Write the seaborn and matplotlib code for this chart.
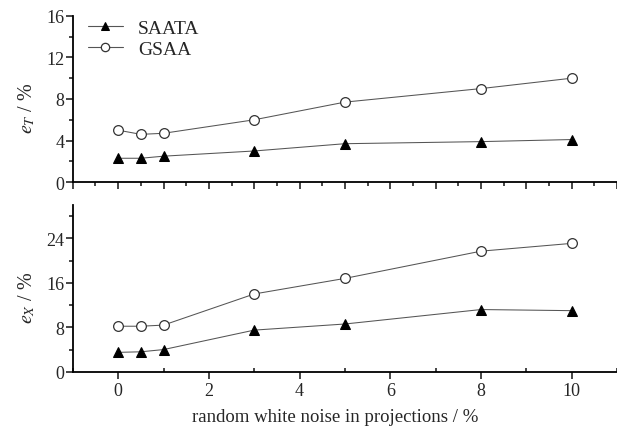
import matplotlib
matplotlib.use("Agg")
import matplotlib.pyplot as plt
import seaborn as sns
import pandas as pd
from matplotlib.ticker import MultipleLocator

noise = [0, 0.5, 1, 3, 5, 8, 10]
eT_saata = [2.3, 2.3, 2.5, 3.0, 3.7, 3.9, 4.1]
eT_gsaa = [5.0, 4.6, 4.7, 6.0, 7.7, 9.0, 10.0]
eX_saata = [3.5, 3.6, 4.0, 7.5, 8.6, 11.2, 11.0]
eX_gsaa = [8.2, 8.2, 8.4, 14.0, 16.8, 21.7, 23.1]
series = ["SAATA", "GSAA"]

sns.set_theme(style="white")
plt.rcParams["font.family"] = ["Liberation Serif", "DejaVu Serif"]
plt.rcParams["mathtext.fontset"] = "stix"

LINE = "#555555"

def frame(a, b):
    return pd.DataFrame({
        "noise": noise * 2,
        "value": a + b,
        "method": [series[0]] * len(noise) + [series[1]] * len(noise),
    })

fig = plt.figure(figsize=(6.17, 4.31), dpi=100)
ax1 = fig.add_axes([0.118, 0.575, 0.882, 0.386])
ax2 = fig.add_axes([0.118, 0.135, 0.882, 0.387])

styles = dict(markers={"SAATA": "^", "GSAA": "o"}, dashes=False)
for ax, df in [(ax1, frame(eT_saata, eT_gsaa)), (ax2, frame(eX_saata, eX_gsaa))]:
    sns.lineplot(data=df, x="noise", y="value", hue="method", style="method",
                 palette={"SAATA": LINE, "GSAA": LINE},
                 linewidth=0.75, markersize=7, ax=ax, legend=(ax is ax1), **styles)
    for ln in ax.lines:
        if ln.get_marker() == "^":
            ln.set_markerfacecolor("black"); ln.set_markeredgecolor("black")
        elif ln.get_marker() == "o":
            ln.set_markerfacecolor("white"); ln.set_markeredgecolor("#333333")
            ln.set_markeredgewidth(0.9)
    ax.set_xlim(-1, 11)
    for s in ["top", "right"]:
        ax.spines[s].set_visible(False)
    for s in ["left", "bottom"]:
        ax.spines[s].set_color("black"); ax.spines[s].set_linewidth(1.3)
    ax.tick_params(axis="y", which="major", direction="out", length=5, width=1.2,
                   labelsize=13, left=True, pad=1)
    ax.tick_params(axis="y", which="minor", direction="out", length=3, width=1.2, left=True)
    ax.set_xlabel("")

ax1.set_ylim(0, 16)
ax1.yaxis.set_major_locator(MultipleLocator(4))
ax1.yaxis.set_minor_locator(MultipleLocator(2))
ax1.xaxis.set_major_locator(MultipleLocator(1))
ax1.xaxis.set_minor_locator(MultipleLocator(0.5))
ax1.tick_params(axis="x", which="major", direction="out", length=5, width=1.2, bottom=True, labelbottom=False)
ax1.tick_params(axis="x", which="minor", direction="out", length=3, width=1.2, bottom=True)
ax1.set_ylabel(r"$e_T$ / %", fontsize=14.5)
ax1.yaxis.set_label_coords(-0.066, 0.45)

ax2.set_ylim(0, 30)
ax2.yaxis.set_major_locator(MultipleLocator(8))
ax2.yaxis.set_minor_locator(MultipleLocator(4))
ax2.xaxis.set_major_locator(MultipleLocator(2))
ax2.xaxis.set_minor_locator(MultipleLocator(1))
ax2.tick_params(axis="x", which="major", direction="out", length=5, width=1.2, bottom=True, labelsize=13, pad=2)
ax2.tick_params(axis="x", which="minor", direction="in", length=3, width=1.2, bottom=True)
ax2.set_ylabel(r"$e_X$ / %", fontsize=14.5)
ax2.yaxis.set_label_coords(-0.066, 0.45)
ax2.set_xlabel("random white noise in projections / %", fontsize=13.5)
ax2.xaxis.set_label_coords(0.482, -0.215)

leg = ax1.legend(loc="upper left", bbox_to_anchor=(-0.005, 1.085), frameon=False,
                 fontsize=14, handlelength=1.8, handletextpad=0.8, labelspacing=0.2)
for h in leg.legend_handles:
    if h.get_marker() == "^":
        h.set_markerfacecolor("black"); h.set_markeredgecolor("black"); h.set_markersize(6)
    else:
        h.set_markerfacecolor("white"); h.set_markeredgecolor("#333333"); h.set_markersize(6)
    h.set_linewidth(0.8)

fig.savefig("out.png", dpi=100)
